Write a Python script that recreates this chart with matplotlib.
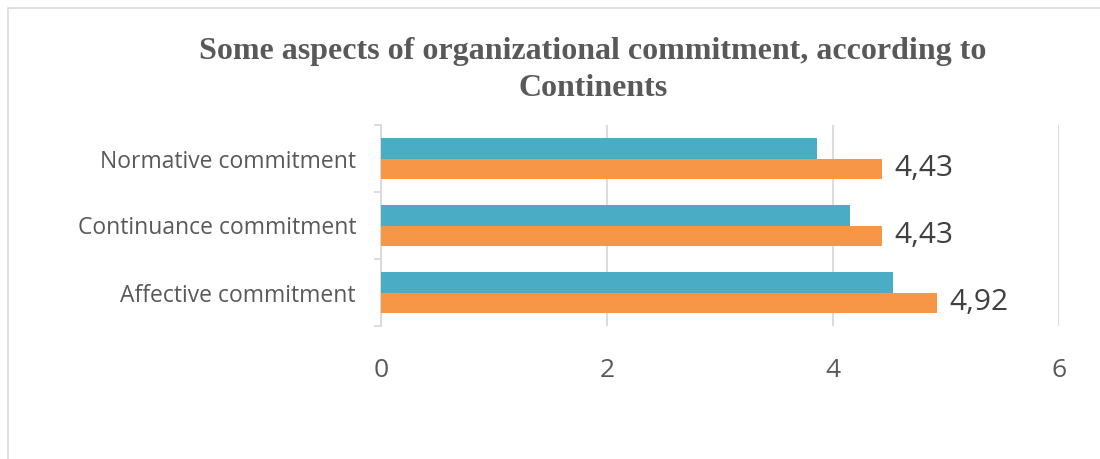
import numpy as np
import matplotlib
matplotlib.use("Agg")
import matplotlib.pyplot as plt
from matplotlib.patches import Rectangle

# data
categories = ["Affective commitment", "Continuance commitment", "Normative commitment"]
teal_vals = [4.53, 4.15, 3.86]
orange_vals = [4.92, 4.43, 4.43]
orange_labels = ["4,92", "4,43", "4,43"]
x_ticks = [0, 2, 4, 6]

c_teal = "#4bacc6"
c_orange = "#f79646"
c_text = "#595959"
c_grid = "#d9d9d9"

fig = plt.figure(figsize=(11, 4.59), dpi=100)
fig.patches.append(Rectangle((8 / 1100, -0.1), 1.2, 1 - 8 / 459 + 0.1, transform=fig.transFigure,
                             fill=False, edgecolor=c_grid, linewidth=1.2))

ax = fig.add_axes([381 / 1100, 1 - 326 / 459, 678 / 1100, 201 / 459])

y = np.arange(len(categories))
h = 0.3
ax.barh(y + h / 2, teal_vals, height=h, color=c_teal, zorder=3)
ax.barh(y - h / 2, orange_vals, height=h, color=c_orange, zorder=3)

for yi, v, lab in zip(y, orange_vals, orange_labels):
    ax.annotate(lab, (v, yi - h / 2), xytext=(9, 0), textcoords="offset points",
                va="center", ha="left", fontsize=21.5, color="#404040", family="Open Sans")

ax.set_xlim(0, 6)
ax.set_ylim(-0.5, 2.5)
ax.set_xticks(x_ticks)
ax.set_xticklabels([str(t) for t in x_ticks], fontsize=19, color=c_text, family="Open Sans")
ax.tick_params(axis="x", length=0, pad=23)
ax.xaxis.grid(True, color=c_grid, linewidth=1.3, zorder=0)

ax.set_yticks(y)
ax.set_yticklabels(categories, fontsize=16.5, color=c_text, family="Open Sans")
ax.tick_params(axis="y", which="major", length=0, pad=18)
ax.set_yticks([-0.5, 0.5, 1.5, 2.5], minor=True)
ax.tick_params(axis="y", which="minor", length=5, color=c_grid, width=1.3)

for s in ["top", "right", "bottom"]:
    ax.spines[s].set_visible(False)
ax.spines["left"].set_color(c_grid)
ax.spines["left"].set_linewidth(1.3)

fig.text(0.539, 1 - 51 / 459, "Some aspects of organizational commitment, according to",
         ha="center", va="center", fontsize=23, fontweight="bold", color=c_text, family="Liberation Serif")
fig.text(0.539, 1 - 88 / 459, "Continents",
         ha="center", va="center", fontsize=23, fontweight="bold", color=c_text, family="Liberation Serif")

fig.savefig("out.png", dpi=100)
